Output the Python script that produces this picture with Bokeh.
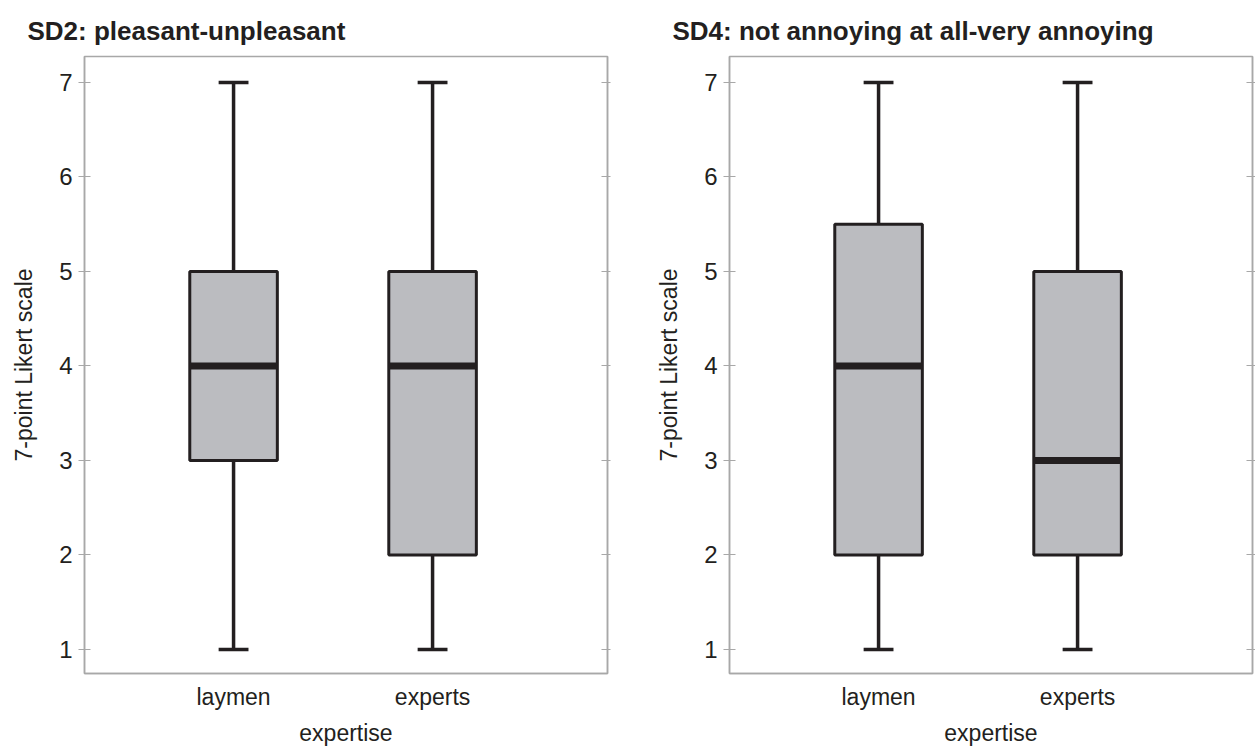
from bokeh.plotting import figure
from bokeh.layouts import row
from bokeh.models import Range1d, FixedTicker, LinearAxis
from bokeh.embed import file_html
from bokeh.resources import INLINE

# ---- data ----
categories = ["laymen", "experts"]
titles = ["SD2: pleasant-unpleasant", "SD4: not annoying at all-very annoying"]
y_ticks = [1, 2, 3, 4, 5, 6, 7]

sd2_min = [1, 1]
sd2_q1 = [3, 2]
sd2_median = [4, 4]
sd2_q3 = [5, 5]
sd2_max = [7, 7]

sd4_min = [1, 1]
sd4_q1 = [2, 2]
sd4_median = [4, 3]
sd4_q3 = [5.5, 5]
sd4_max = [7, 7]

FONT = "'Liberation Sans Narrow', 'Arial Narrow', 'Liberation Sans', sans-serif"
INK = "#231f20"
FRAME = "#a8a8a8"
FILL = "#bbbcc0"


def panel(title, mins, q1, med, q3, maxs, width, mb_left, mb_right):
    p = figure(width=width, height=747, frame_width=523, frame_height=617,
               output_backend="svg", toolbar_location=None,
               x_range=Range1d(0.251, 2.879), y_range=Range1d(0.746, 7.275),
               min_border_left=mb_left, min_border_right=mb_right,
               min_border_top=56, min_border_bottom=74)
    p.background_fill_color = "white"
    p.border_fill_color = "white"
    p.xgrid.visible = False
    p.ygrid.visible = False
    p.outline_line_color = FRAME
    p.outline_line_width = 1.5

    p.title.text = title
    p.title.text_font = FONT
    p.title.text_font_size = "26px"
    p.title.text_font_style = "bold"
    p.title.text_color = INK
    p.title.align = "left"
    p.title.offset = -57
    p.title.standoff = 22

    xs = [i + 1 for i in range(len(categories))]
    bw = 0.44
    cw = 0.15
    # whiskers
    p.segment(x0=xs, y0=q3, x1=xs, y1=maxs, line_color=INK, line_width=3.5)
    p.segment(x0=xs, y0=q1, x1=xs, y1=mins, line_color=INK, line_width=3.5)
    # caps
    p.segment(x0=[x - cw / 2 for x in xs], y0=maxs, x1=[x + cw / 2 for x in xs], y1=maxs,
              line_color=INK, line_width=3.5)
    p.segment(x0=[x - cw / 2 for x in xs], y0=mins, x1=[x + cw / 2 for x in xs], y1=mins,
              line_color=INK, line_width=3.5)
    # boxes
    p.vbar(x=xs, width=bw, bottom=q1, top=q3, fill_color=FILL,
           line_color=INK, line_width=3)
    # medians
    p.segment(x0=[x - bw / 2 for x in xs], y0=med, x1=[x + bw / 2 for x in xs], y1=med,
              line_color=INK, line_width=7)

    # x axis
    xa = p.xaxis[0]
    xa.ticker = FixedTicker(ticks=xs)
    xa.major_label_overrides = {x: c for x, c in zip(xs, categories)}
    xa.axis_label = "expertise"
    xa.major_tick_out = 0
    xa.major_tick_in = 0
    xa.minor_tick_out = 0
    xa.minor_tick_in = 0
    xa.axis_line_color = FRAME
    xa.axis_line_width = 1.5
    xa.major_label_standoff = 10
    xa.axis_label_standoff = 7

    # y axis
    ya = p.yaxis[0]
    ya.ticker = FixedTicker(ticks=y_ticks)
    ya.axis_label = "7-point Likert scale"
    ya.major_tick_out = 6
    ya.major_tick_in = 6
    ya.minor_tick_out = 0
    ya.minor_tick_in = 0
    ya.major_tick_line_color = FRAME
    ya.major_tick_line_width = 1.2
    ya.axis_line_color = FRAME
    ya.axis_line_width = 1.5
    ya.major_label_standoff = 6
    ya.axis_label_standoff = 19

    for ax in (xa, ya):
        ax.major_label_text_font = FONT
        ax.major_label_text_font_size = "23px"
        ax.major_label_text_color = INK
        ax.axis_label_text_font = FONT
        ax.axis_label_text_font_size = "23px"
        ax.axis_label_text_font_style = "normal"
        ax.axis_label_text_color = INK
    ya.major_label_text_font_size = "24px"

    # right-side ticks (no labels)
    ra = LinearAxis(ticker=FixedTicker(ticks=y_ticks),
                    major_label_overrides={t: "" for t in y_ticks},
                    major_label_standoff=0,
                    major_tick_out=3, major_tick_in=6,
                    minor_tick_out=0, minor_tick_in=0,
                    major_tick_line_color=FRAME, major_tick_line_width=1.2,
                    axis_line_color=FRAME, axis_line_width=1.5)
    p.add_layout(ra, "right")
    return p


p1 = panel(titles[0], sd2_min, sd2_q1, sd2_median, sd2_q3, sd2_max, 645, 84, 38)
p2 = panel(titles[1], sd4_min, sd4_q1, sd4_median, sd4_q3, sd4_max, 610, 84, 3)

layout = row(p1, p2, spacing=0)
open("out.html", "w").write(file_html(layout, INLINE))
